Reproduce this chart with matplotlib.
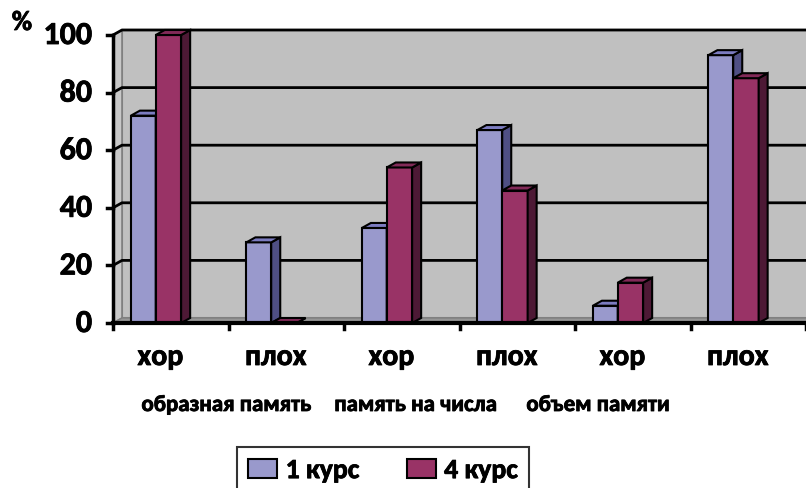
import matplotlib
matplotlib.use("Agg")
import matplotlib.pyplot as plt
import matplotlib.patheffects as pe
from matplotlib.patches import Polygon, Rectangle
from matplotlib.lines import Line2D

plt.rcParams['font.family'] = ['Carlito', 'DejaVu Sans']
plt.rcParams['font.weight'] = 'bold'

categories = ["хор", "плох", "хор", "плох", "хор", "плох"]
groups = ["образная память", "память на числа", "объем памяти"]
course1 = [72, 28, 33, 67, 6, 93]
course4 = [100, 0, 54, 46, 14, 85]
series_names = ["1 курс", "4 курс"]
yticks = [0, 20, 40, 60, 80, 100]

heavy = [pe.withStroke(linewidth=0.6, foreground="black")]

W, H = 806, 488
fig = plt.figure(figsize=(W / 100, H / 100), dpi=100)
ax_l, ax_b, ax_r, ax_t = 113, 323, 806, 35
ax = fig.add_axes([ax_l / W, (H - ax_b) / H, (ax_r - ax_l) / W, (ax_b - ax_t) / H])
ax.set_xlim(0, 6)
ax.set_ylim(0, 100)
ax.axis("off")

px_x = 6 / (ax_r - ax_l)
px_y = 100 / (ax_b - ax_t)
dx, dy = 9 * px_x, 5 * px_y

# back wall, side wall and floor
ax.add_patch(Polygon([(dx, dy), (6 + dx + 0.2, dy), (6 + dx + 0.2, 100 + dy), (dx, 100 + dy)],
                     closed=True, facecolor="#C0C0C0", edgecolor="#808080", lw=1.5, clip_on=False, zorder=1))
ax.add_patch(Polygon([(0, 0), (dx, dy), (dx, 100 + dy), (0, 100)],
                     closed=True, facecolor="#C8C8C8", edgecolor="#808080", lw=1.2, clip_on=False, zorder=1))
ax.add_patch(Polygon([(0, 0), (6 + 0.2, 0), (6 + dx + 0.2, dy), (dx, dy)],
                     closed=True, facecolor="#969696", edgecolor="#808080", lw=1, clip_on=False, zorder=1))

for v in yticks[1:]:
    ax.add_line(Line2D([0, dx, 6 + dx + 0.2], [v, v + dy, v + dy], color="black", lw=2,
                       clip_on=False, zorder=2))

colors = [("#9999CC", "#4F4F84", "#7C7CC0"), ("#993366", "#4D1935", "#822A58")]
offsets = [(0.155, 0.37), (0.37, 0.59)]


def draw_bar(x0, x1, v, cols, z):
    front, side, top = cols
    ax.add_patch(Polygon([(x0, 0), (x1, 0), (x1, v), (x0, v)], closed=True,
                         facecolor=front, edgecolor="black", lw=1.5, clip_on=False, zorder=z))
    ax.add_patch(Polygon([(x1, 0), (x1 + dx, dy), (x1 + dx, v + dy), (x1, v)], closed=True,
                         facecolor=side, edgecolor="black", lw=1.5, clip_on=False, zorder=z))
    ax.add_patch(Polygon([(x0, v), (x1, v), (x1 + dx, v + dy), (x0 + dx, v + dy)], closed=True,
                         facecolor=top, edgecolor="black", lw=1.5, clip_on=False, zorder=z))


z = 3
for i in range(len(categories)):
    for s, vals in enumerate([course1, course4]):
        o0, o1 = offsets[s]
        draw_bar(i + o0, i + o1, vals[i], colors[s], z)
        z += 1

# front axes
ax.add_line(Line2D([0, 0], [0, 100], color="black", lw=2.5, clip_on=False, zorder=50))
ax.add_line(Line2D([0, 6.2], [0, 0], color="black", lw=3, clip_on=False, zorder=50))
for v in yticks:
    ax.add_line(Line2D([-6 * px_x, 0], [v, v], color="black", lw=2.5, clip_on=False, zorder=50))
    ax.text(-21 * px_x, v, str(v), ha="right", va="center", fontsize=23, fontweight="bold",
            path_effects=heavy)
for i in range(7):
    ax.add_line(Line2D([i, i], [0, -6 * px_y], color="black", lw=2.5, clip_on=False, zorder=50))

for i, c in enumerate(categories):
    ax.text(i + 0.41, -34 * px_y, c, ha="center", va="center", fontsize=21.5, fontweight="bold",
            path_effects=heavy)

group_x = [0.98, 2.62, 4.2]
for gx, g in zip(group_x, groups):
    ax.text(gx, -82 * px_y, g, ha="center", va="center", fontsize=16.5, fontweight="bold",
            path_effects=heavy)

fig.text(22 / W, 1 - 22 / H, "%", ha="center", va="center", fontsize=20, fontweight="bold",
         path_effects=heavy)

# legend
handles = [Rectangle((0, 0), 1, 1, facecolor=colors[k][0], edgecolor="black", lw=1.5) for k in range(2)]
leg = fig.legend(handles, series_names, loc="upper left", bbox_to_anchor=(237 / W, 1 - 447 / H),
                 ncol=2, frameon=True, fancybox=False, edgecolor="black",
                 prop={"family": ["Carlito", "DejaVu Sans"], "weight": "bold", "size": 20},
                 handlelength=1.05, handleheight=0.7,
                 handletextpad=0.3, columnspacing=1.7, borderpad=0.4, borderaxespad=0)
leg.get_frame().set_linewidth(1.5)
for t in leg.get_texts():
    t.set_path_effects(heavy)

fig.savefig("out.png", dpi=100)
